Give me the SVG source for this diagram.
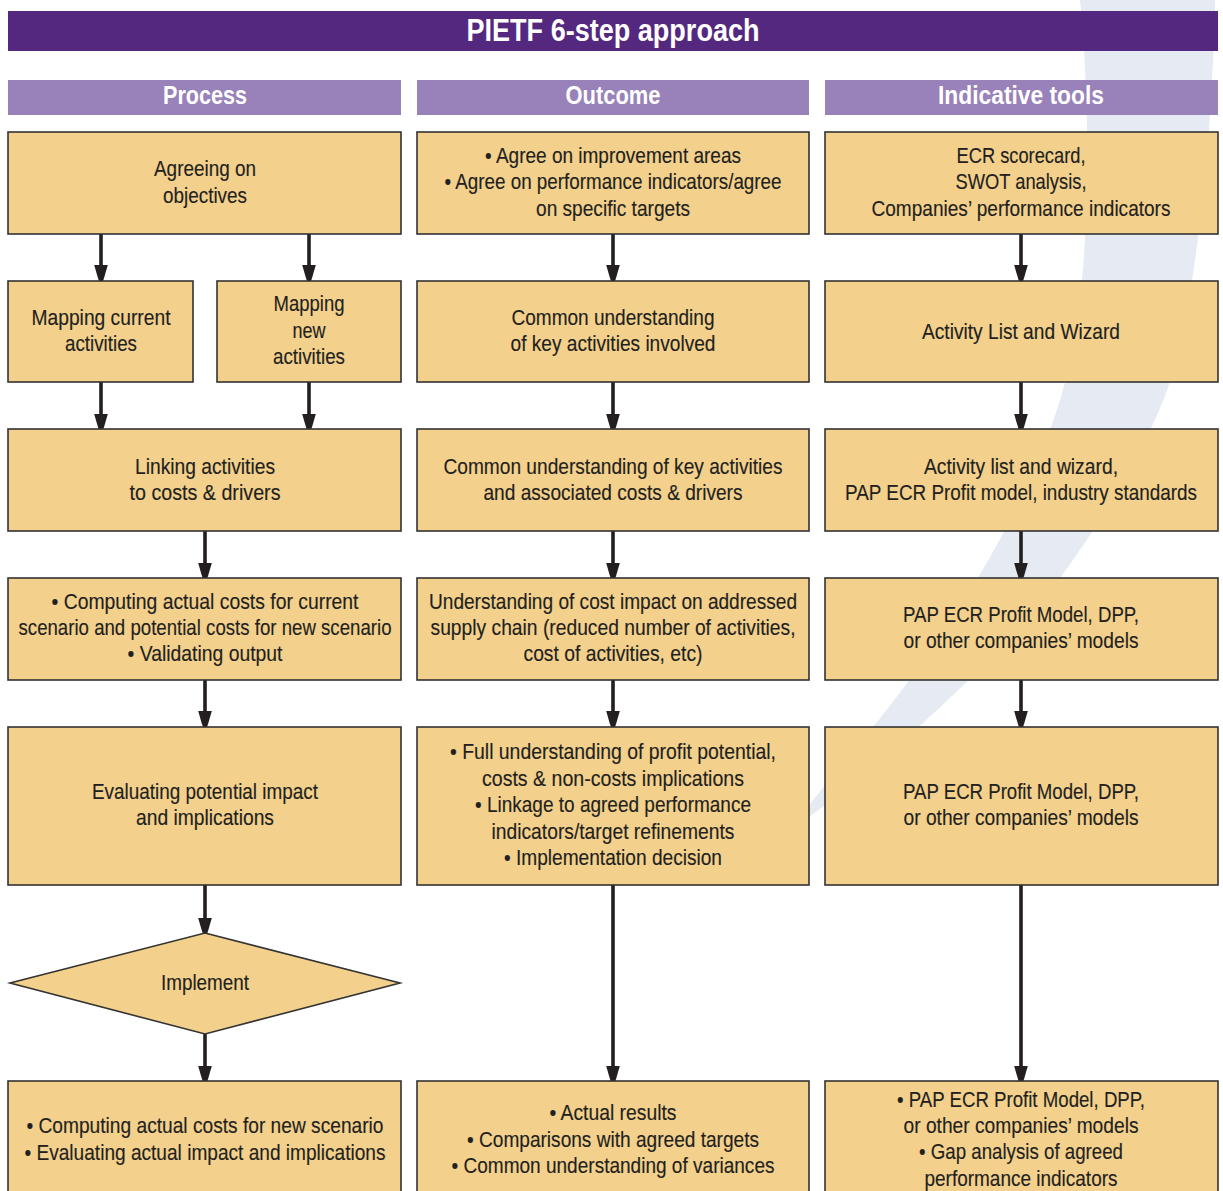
<svg xmlns="http://www.w3.org/2000/svg" width="1223" height="1191" viewBox="0 0 1223 1191">
  <style>
    .box { fill: #f3d18c; stroke: #333333; stroke-width: 1.6; }
    .t { font-family: "Liberation Sans", Arial, sans-serif; font-size: 21.5px; fill: #231f20; text-anchor: middle; stroke: #231f20; stroke-width: 0.15; }
    .hdr-bar { fill: #9882b9; }
    .hdr { font-family: "Liberation Sans", Arial, sans-serif; font-size: 26px; font-weight: bold; fill: #ffffff; text-anchor: middle; }
    .title { font-family: "Liberation Sans", Arial, sans-serif; font-size: 31px; font-weight: bold; fill: #ffffff; text-anchor: middle; }
    .arrow { stroke: #231f20; stroke-width: 3.6; fill: none; marker-end: url(#head); }
  </style>
  <defs>
    <marker id="head" markerUnits="userSpaceOnUse" markerWidth="24" markerHeight="16" viewBox="0 -8 24 16" refX="10" refY="0" orient="auto">
      <path d="M0,-6.8 Q12,-3.6 22,0 Q12,3.6 0,6.8 Z" fill="#231f20"/>
    </marker>
  </defs>

  <rect width="1223" height="1191" fill="#ffffff"/>

  <!-- background swoosh -->
  <path d="M1080,0 C1092,120 1092,300 1060,400 C1030,500 960,620 873,727 C840,768 812,800 790,830 C860,785 1000,660 1060,578 C1110,510 1150,440 1170,382 C1195,300 1212,150 1215,0 Z" fill="#e6eaf3"/>

  <!-- title bar -->
  <g id="title">
    <rect x="8" y="11" width="1210" height="40" fill="#55287f"/>
    <text class="title" x="613" y="41" textLength="293" lengthAdjust="spacingAndGlyphs">PIETF 6-step approach</text>
  </g>

  <!-- column headers -->
  <g id="hdr-process">
    <rect class="hdr-bar" x="8" y="80" width="393" height="35"/>
    <text class="hdr" x="205" y="104" textLength="84" lengthAdjust="spacingAndGlyphs">Process</text>
  </g>
  <g id="hdr-outcome">
    <rect class="hdr-bar" x="417" y="80" width="392" height="35"/>
    <text class="hdr" x="613" y="104" textLength="95" lengthAdjust="spacingAndGlyphs">Outcome</text>
  </g>
  <g id="hdr-tools">
    <rect class="hdr-bar" x="825" y="80" width="393" height="35"/>
    <text class="hdr" x="1021" y="104" textLength="166" lengthAdjust="spacingAndGlyphs">Indicative tools</text>
  </g>

  <!-- connectors -->
  <g id="connectors">
    <line class="arrow" x1="101" y1="234" x2="101" y2="275"/>
    <line class="arrow" x1="309" y1="234" x2="309" y2="275"/>
    <line class="arrow" x1="101" y1="382" x2="101" y2="424"/>
    <line class="arrow" x1="309" y1="382" x2="309" y2="424"/>
    <line class="arrow" x1="205" y1="531" x2="205" y2="573"/>
    <line class="arrow" x1="205" y1="680" x2="205" y2="721"/>
    <line class="arrow" x1="205" y1="885" x2="205" y2="928"/>
    <line class="arrow" x1="205" y1="1034" x2="205" y2="1076"/>

    <line class="arrow" x1="613" y1="234" x2="613" y2="275"/>
    <line class="arrow" x1="613" y1="382" x2="613" y2="424"/>
    <line class="arrow" x1="613" y1="531" x2="613" y2="573"/>
    <line class="arrow" x1="613" y1="680" x2="613" y2="721"/>
    <line class="arrow" x1="613" y1="885" x2="613" y2="1076"/>

    <line class="arrow" x1="1021" y1="234" x2="1021" y2="275"/>
    <line class="arrow" x1="1021" y1="382" x2="1021" y2="424"/>
    <line class="arrow" x1="1021" y1="531" x2="1021" y2="573"/>
    <line class="arrow" x1="1021" y1="680" x2="1021" y2="721"/>
    <line class="arrow" x1="1021" y1="885" x2="1021" y2="1076"/>
  </g>

  <!-- Process column -->
  <g id="p1">
    <rect class="box" x="8" y="132" width="393" height="102"/>
    <text class="t" x="205" y="176" textLength="102" lengthAdjust="spacingAndGlyphs">Agreeing on</text>
    <text class="t" x="205" y="202.5" textLength="84" lengthAdjust="spacingAndGlyphs">objectives</text>
  </g>
  <g id="p2a">
    <rect class="box" x="8" y="281" width="185" height="101"/>
    <text class="t" x="101" y="324.5" textLength="139" lengthAdjust="spacingAndGlyphs">Mapping current</text>
    <text class="t" x="101" y="351" textLength="72" lengthAdjust="spacingAndGlyphs">activities</text>
  </g>
  <g id="p2b">
    <rect class="box" x="217" y="281" width="184" height="101"/>
    <text class="t" x="309" y="311" textLength="71" lengthAdjust="spacingAndGlyphs">Mapping</text>
    <text class="t" x="309" y="337.5" textLength="33" lengthAdjust="spacingAndGlyphs">new</text>
    <text class="t" x="309" y="364" textLength="72" lengthAdjust="spacingAndGlyphs">activities</text>
  </g>
  <g id="p3">
    <rect class="box" x="8" y="429" width="393" height="102"/>
    <text class="t" x="205" y="473.5" textLength="140" lengthAdjust="spacingAndGlyphs">Linking activities</text>
    <text class="t" x="205" y="500" textLength="151" lengthAdjust="spacingAndGlyphs">to costs &amp; drivers</text>
  </g>
  <g id="p4">
    <rect class="box" x="8" y="578" width="393" height="102"/>
    <text class="t" x="205" y="608.5" textLength="307" lengthAdjust="spacingAndGlyphs">• Computing actual costs for current</text>
    <text class="t" x="205" y="634.5" textLength="373" lengthAdjust="spacingAndGlyphs">scenario and potential costs for new scenario</text>
    <text class="t" x="205" y="661" textLength="155" lengthAdjust="spacingAndGlyphs">• Validating output</text>
  </g>
  <g id="p5">
    <rect class="box" x="8" y="727" width="393" height="158"/>
    <text class="t" x="205" y="799" textLength="226" lengthAdjust="spacingAndGlyphs">Evaluating potential impact</text>
    <text class="t" x="205" y="825" textLength="138" lengthAdjust="spacingAndGlyphs">and implications</text>
  </g>
  <g id="p6">
    <polygon class="box" points="205,933 400,983 205,1034 10,983"/>
    <text class="t" x="205" y="989.5" textLength="88" lengthAdjust="spacingAndGlyphs">Implement</text>
  </g>
  <g id="p7">
    <rect class="box" x="8" y="1081" width="393" height="125"/>
    <text class="t" x="205" y="1133" textLength="357" lengthAdjust="spacingAndGlyphs">• Computing actual costs for new scenario</text>
    <text class="t" x="205" y="1159.5" textLength="361" lengthAdjust="spacingAndGlyphs">• Evaluating actual impact and implications</text>
  </g>

  <!-- Outcome column -->
  <g id="o1">
    <rect class="box" x="417" y="132" width="392" height="102"/>
    <text class="t" x="613" y="162.5" textLength="256" lengthAdjust="spacingAndGlyphs">• Agree on improvement areas</text>
    <text class="t" x="613" y="189" textLength="337" lengthAdjust="spacingAndGlyphs">• Agree on performance indicators/agree</text>
    <text class="t" x="613" y="216" textLength="154" lengthAdjust="spacingAndGlyphs">on specific targets</text>
  </g>
  <g id="o2">
    <rect class="box" x="417" y="281" width="392" height="101"/>
    <text class="t" x="613" y="324.5" textLength="203" lengthAdjust="spacingAndGlyphs">Common understanding</text>
    <text class="t" x="613" y="351" textLength="205" lengthAdjust="spacingAndGlyphs">of key activities involved</text>
  </g>
  <g id="o3">
    <rect class="box" x="417" y="429" width="392" height="102"/>
    <text class="t" x="613" y="473.5" textLength="339" lengthAdjust="spacingAndGlyphs">Common understanding of key activities</text>
    <text class="t" x="613" y="500" textLength="259" lengthAdjust="spacingAndGlyphs">and associated costs &amp; drivers</text>
  </g>
  <g id="o4">
    <rect class="box" x="417" y="578" width="392" height="102"/>
    <text class="t" x="613" y="608.5" textLength="368" lengthAdjust="spacingAndGlyphs">Understanding of cost impact on addressed</text>
    <text class="t" x="613" y="634.5" textLength="365" lengthAdjust="spacingAndGlyphs">supply chain (reduced number of activities,</text>
    <text class="t" x="613" y="661" textLength="179" lengthAdjust="spacingAndGlyphs">cost of activities, etc)</text>
  </g>
  <g id="o5">
    <rect class="box" x="417" y="727" width="392" height="158"/>
    <text class="t" x="613" y="759" textLength="326" lengthAdjust="spacingAndGlyphs">• Full understanding of profit potential,</text>
    <text class="t" x="613" y="785.5" textLength="262" lengthAdjust="spacingAndGlyphs">costs &amp; non-costs implications</text>
    <text class="t" x="613" y="812" textLength="276" lengthAdjust="spacingAndGlyphs">• Linkage to agreed performance</text>
    <text class="t" x="613" y="838.5" textLength="243" lengthAdjust="spacingAndGlyphs">indicators/target refinements</text>
    <text class="t" x="613" y="865" textLength="218" lengthAdjust="spacingAndGlyphs">• Implementation decision</text>
  </g>
  <g id="o6">
    <rect class="box" x="417" y="1081" width="392" height="125"/>
    <text class="t" x="613" y="1120" textLength="127" lengthAdjust="spacingAndGlyphs">• Actual results</text>
    <text class="t" x="613" y="1146.5" textLength="292" lengthAdjust="spacingAndGlyphs">• Comparisons with agreed targets</text>
    <text class="t" x="613" y="1172.5" textLength="323" lengthAdjust="spacingAndGlyphs">• Common understanding of variances</text>
  </g>

  <!-- Indicative tools column -->
  <g id="i1">
    <rect class="box" x="825" y="132" width="393" height="102"/>
    <text class="t" x="1021" y="162.5" textLength="129" lengthAdjust="spacingAndGlyphs">ECR scorecard,</text>
    <text class="t" x="1021" y="189" textLength="131" lengthAdjust="spacingAndGlyphs">SWOT analysis,</text>
    <text class="t" x="1021" y="216" textLength="299" lengthAdjust="spacingAndGlyphs">Companies’ performance indicators</text>
  </g>
  <g id="i2">
    <rect class="box" x="825" y="281" width="393" height="101"/>
    <text class="t" x="1021" y="338.5" textLength="198" lengthAdjust="spacingAndGlyphs">Activity List and Wizard</text>
  </g>
  <g id="i3">
    <rect class="box" x="825" y="429" width="393" height="102"/>
    <text class="t" x="1021" y="473.5" textLength="194" lengthAdjust="spacingAndGlyphs">Activity list and wizard,</text>
    <text class="t" x="1021" y="500" textLength="352" lengthAdjust="spacingAndGlyphs">PAP ECR Profit model, industry standards</text>
  </g>
  <g id="i4">
    <rect class="box" x="825" y="578" width="393" height="102"/>
    <text class="t" x="1021" y="621.5" textLength="236" lengthAdjust="spacingAndGlyphs">PAP ECR Profit Model, DPP,</text>
    <text class="t" x="1021" y="648" textLength="235" lengthAdjust="spacingAndGlyphs">or other companies’ models</text>
  </g>
  <g id="i5">
    <rect class="box" x="825" y="727" width="393" height="158"/>
    <text class="t" x="1021" y="799" textLength="236" lengthAdjust="spacingAndGlyphs">PAP ECR Profit Model, DPP,</text>
    <text class="t" x="1021" y="824.5" textLength="235" lengthAdjust="spacingAndGlyphs">or other companies’ models</text>
  </g>
  <g id="i6">
    <rect class="box" x="825" y="1081" width="393" height="125"/>
    <text class="t" x="1021" y="1106.5" textLength="248" lengthAdjust="spacingAndGlyphs">• PAP ECR Profit Model, DPP,</text>
    <text class="t" x="1021" y="1132.5" textLength="235" lengthAdjust="spacingAndGlyphs">or other companies’ models</text>
    <text class="t" x="1021" y="1159" textLength="204" lengthAdjust="spacingAndGlyphs">• Gap analysis of agreed</text>
    <text class="t" x="1021" y="1185.5" textLength="193" lengthAdjust="spacingAndGlyphs">performance indicators</text>
  </g>
</svg>
